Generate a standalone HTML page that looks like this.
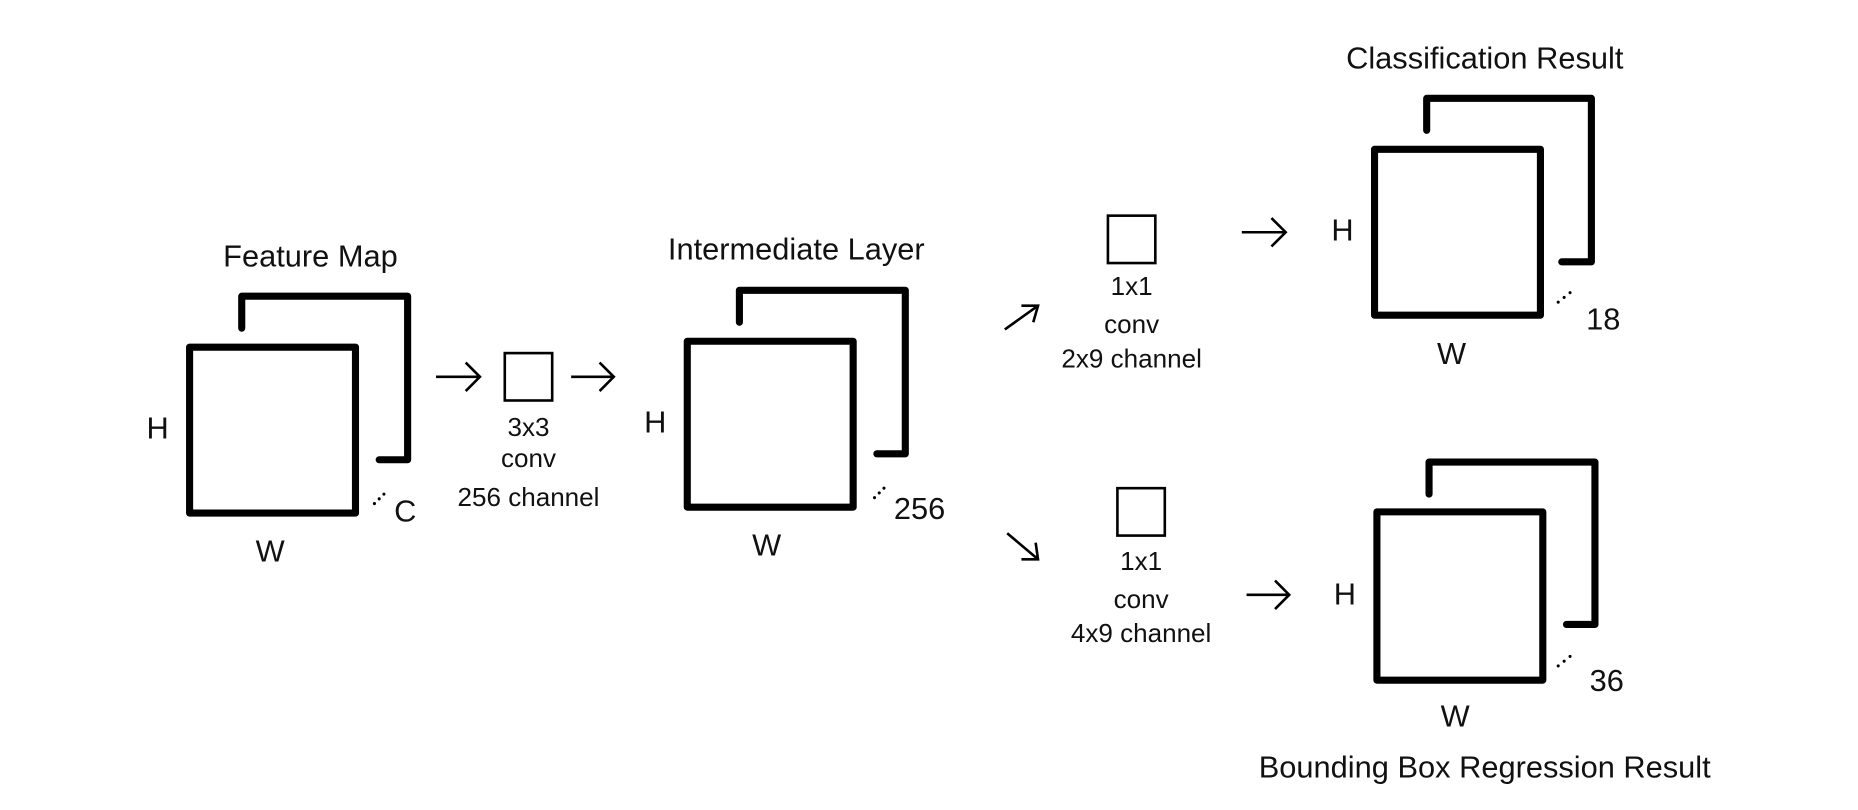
<!DOCTYPE html>
<html><head><meta charset="utf-8"><style>
html,body{margin:0;padding:0;background:#fff;}
svg{display:block}
text{font-family:"Liberation Sans",sans-serif;fill:#111;text-anchor:middle}
.l{font-size:26px}.s{font-size:22px}
</style></head><body>
<svg width="1858" height="810" viewBox="0 0 1568 683.6" preserveAspectRatio="none">
<g fill="none" stroke="#000" stroke-width="6" stroke-linecap="round" stroke-linejoin="round">
<rect x="160" y="293" width="140" height="140"/>
<path d="M204,277V250H344V388H320"/>
<rect x="580" y="288" width="140" height="140"/>
<path d="M624,272V245H764V383H740"/>
<rect x="1160" y="126" width="140" height="140"/>
<path d="M1204,110V83H1343V221H1318"/>
<rect x="1162" y="432" width="140" height="142"/>
<path d="M1206,417V390H1346V527H1322"/>
</g>
<g fill="none" stroke="#000" stroke-width="2.2">
<rect x="426" y="298" width="40" height="40"/>
<rect x="935" y="182" width="40" height="40"/>
<rect x="943" y="412" width="40" height="40"/>
<path d="M368,318H405M393,306L405,318L393,330"/>
<path d="M482,318H518M506,306L518,318L506,330"/>
<path d="M1048,196H1085M1073,184L1085,196L1073,208"/>
<path d="M1052,502H1088M1076,490L1088,502L1076,514"/>
<path d="M848,278L876,258M862,258L876,258L872,272"/>
<path d="M850,450L876,472M874,458L876,472L862,472"/>
</g>
<g fill="#000">
<circle cx="316" cy="425" r="1.3"/><circle cx="320" cy="421" r="1.3"/><circle cx="324" cy="417" r="1.3"/>
<circle cx="738" cy="420" r="1.3"/><circle cx="742" cy="416" r="1.3"/><circle cx="746" cy="412" r="1.3"/>
<circle cx="1315" cy="255" r="1.3"/><circle cx="1320" cy="251" r="1.3"/><circle cx="1325" cy="247" r="1.3"/>
<circle cx="1315" cy="562" r="1.3"/><circle cx="1320" cy="558" r="1.3"/><circle cx="1325" cy="554" r="1.3"/>
</g>
<text class="l" x="262" y="225">Feature Map</text>
<text class="l" x="133" y="370">H</text>
<text class="l" x="228" y="474">W</text>
<text class="l" x="342" y="440">C</text>
<text class="s" x="446" y="368">3x3</text>
<text class="s" x="446" y="394">conv</text>
<text class="s" x="446" y="427">256 channel</text>
<text class="l" x="672" y="219">Intermediate Layer</text>
<text class="l" x="553" y="365">H</text>
<text class="l" x="647" y="469">W</text>
<text class="l" x="776" y="438">256</text>
<text class="s" x="955" y="249">1x1</text>
<text class="s" x="955" y="281">conv</text>
<text class="s" x="955" y="310">2x9 channel</text>
<text class="s" x="963" y="481">1x1</text>
<text class="s" x="963" y="513">conv</text>
<text class="s" x="963" y="542">4x9 channel</text>
<text class="l" x="1253" y="58">Classification Result</text>
<text class="l" x="1133" y="203">H</text>
<text class="l" x="1225" y="307">W</text>
<text class="l" x="1353" y="278">18</text>
<text class="l" x="1135" y="510">H</text>
<text class="l" x="1228" y="613">W</text>
<text class="l" x="1356" y="583">36</text>
<text class="l" x="1253" y="656">Bounding Box Regression Result</text>
</svg>
</body></html>
